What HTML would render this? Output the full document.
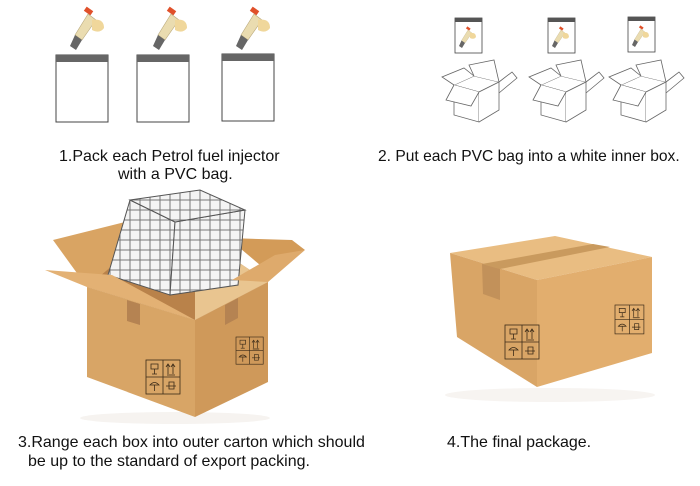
<!DOCTYPE html>
<html><head><meta charset="utf-8"><style>
body{margin:0;background:#fff;width:700px;height:486px;overflow:hidden;font-family:"Liberation Sans",Arial,sans-serif}
svg{position:absolute;left:0;top:0}
.t{position:absolute;font-size:16px;color:#111;white-space:nowrap;line-height:19px}
</style></head><body>
<svg width="700" height="486" viewBox="0 0 700 486">
<defs>
<g id="inj">
  <rect x="-3" y="-2" width="8" height="5" fill="#e0502a" transform="rotate(35)"/>
  <path d="M0,4 L8,10 L-6,30 L-13,25 Z" fill="#eadcb0" stroke="#b8a77a" stroke-width="0.6"/>
  <path d="M4,10 q12,-2 12,8 q-4,6 -12,2 Z" fill="#f0d79b"/>
  <path d="M-13,25 L-6,30 L-12,40 L-18,36 Z" fill="#666"/>
</g>
<g id="bag">
  <rect x="0" y="0" width="52" height="67" fill="#fff" stroke="#444" stroke-width="1"/>
  <rect x="0" y="0" width="52" height="7" fill="#666"/>
</g>
<g id="sbag">
  <rect x="0" y="0" width="27" height="35" fill="#fff" stroke="#444" stroke-width="0.8"/>
  <rect x="0" y="0" width="27" height="4" fill="#555"/>
</g>
<g id="obox" fill="#fff" stroke="#666" stroke-width="0.8">
  <path d="M12,25 L37,32 L57,22 L32,16 Z"/>
  <path d="M12,25 L0,17 L22,8 L32,16"/>
  <path d="M32,16 L27,5 L52,0 L57,22"/>
  <path d="M57,22 L70,12 L75,18 L57,33"/>
  <path d="M12,25 L12,55 L37,62 L37,32 Z"/>
  <path d="M37,32 L57,22 L57,50 L37,62"/>
  <path d="M12,25 L4,40 L29,46 L37,32"/>
</g>
<pattern id="grid" width="10" height="10" patternUnits="userSpaceOnUse">
  <rect width="10" height="10" fill="#f4f4f4" stroke="#777" stroke-width="1"/>
</pattern>
<g id="lbl" fill="none" stroke="#3a2a18" stroke-width="0.8">
  <rect x="0" y="0" width="34" height="34"/><line x1="17" y1="0" x2="17" y2="34"/><line x1="0" y1="17" x2="34" y2="17"/>
  <path d="M5,4 h7 v5 h-7z M8.5,9 v5 M6,14 h5" /><path d="M22,14 v-9 M20,7 l2,-3 l2,3 M27,14 v-9 M25,7 l2,-3 l2,3 M21,15 h8"/>
  <path d="M4,25 q4.5,-5 9,0 z M8.5,25 v6"/><path d="M20,26 h10 M23,22 h5 v7 h-5 z"/>
</g>
</defs>

<use href="#inj" x="88" y="10"/><use href="#inj" x="171" y="10"/><use href="#inj" x="254" y="10"/>
<use href="#bag" x="56" y="55"/><use href="#bag" x="137" y="55"/><use href="#bag" x="222" y="54"/>

<use href="#sbag" x="455" y="18"/><use href="#sbag" x="548" y="18"/><use href="#sbag" x="628" y="17"/>
<g transform="translate(468,28) scale(0.5)"><use href="#inj"/></g>
<g transform="translate(561,28) scale(0.5)"><use href="#inj"/></g>
<g transform="translate(641,27) scale(0.5)"><use href="#inj"/></g>
<use href="#obox" x="442" y="60"/><use href="#obox" x="529" y="60"/><use href="#obox" x="609" y="60"/>

<ellipse cx="175" cy="418" rx="95" ry="6" fill="#f6f3f0"/>
<path d="M53,240 L125,222 L140,255 L87,287 Z" fill="#d9a463"/>
<path d="M228,238 L292,240 L305,250 L260,265 Z" fill="#d39b58"/>
<path d="M87,287 L195,320 L268,282 L232,258 L125,255 Z" fill="#b9824a"/>
<path d="M195,320 L268,282 L232,258 L195,262 Z" fill="#e9c590"/>
<g>
 <path d="M130,200 L175,222 L170,295 L108,275 Z" fill="url(#grid)" stroke="#555"/>
 <path d="M175,222 L245,210 L238,285 L170,295 Z" fill="url(#grid)" stroke="#555"/>
 <path d="M130,200 L200,190 L245,210 L175,222 Z" fill="url(#grid)" stroke="#555"/>
</g>
<path d="M45,270 L87,287 L195,320 L112,275 Z" fill="#e3b174"/>
<path d="M268,282 L305,250 L275,255 L232,280 Z" fill="#deaa6c"/>
<path d="M87,287 L195,320 L195,417 L87,377 Z" fill="#d8a566"/>
<path d="M195,320 L268,282 L268,382 L195,417 Z" fill="#cf995a"/>
<path d="M127,300 L140,304 L140,325 L127,321 Z" fill="#b58352"/>
<path d="M225,305 L238,298 L238,318 L225,325 Z" fill="#b58352"/>
<use href="#lbl" x="146" y="360"/>
<g transform="translate(236,337) scale(0.8)"><use href="#lbl"/></g>

<ellipse cx="550" cy="395" rx="105" ry="7" fill="#f7f4f1"/>
<path d="M450,253 L555,236 L652,257 L537,280 Z" fill="#e9bd82"/>
<path d="M450,253 L537,280 L537,387 L457,337 Z" fill="#d9a566"/>
<path d="M537,280 L652,257 L652,353 L537,387 Z" fill="#e2ae6e"/>
<path d="M482,264 L500,269 L610,247 L593,244 Z" fill="#c99a5e"/>
<path d="M482,264 L500,269 L500,300 L483,294 Z" fill="#c2915a"/>
<use href="#lbl" x="505" y="325"/>
<g transform="translate(615,305) scale(0.85)"><use href="#lbl"/></g>
</svg>

<div class="t" style="left:59px;top:147px">1.Pack each Petrol fuel injector</div>
<div class="t" style="left:118px;top:165px">with a PVC bag.</div>
<div class="t" style="left:378px;top:147px;font-size:15.6px">2. Put each PVC bag into a white inner box.</div>
<div class="t" style="left:18px;top:433px">3.Range each box into outer carton which should</div>
<div class="t" style="left:28px;top:452px">be up to the standard of export packing.</div>
<div class="t" style="left:447px;top:433px">4.The final package.</div>
</body></html>
